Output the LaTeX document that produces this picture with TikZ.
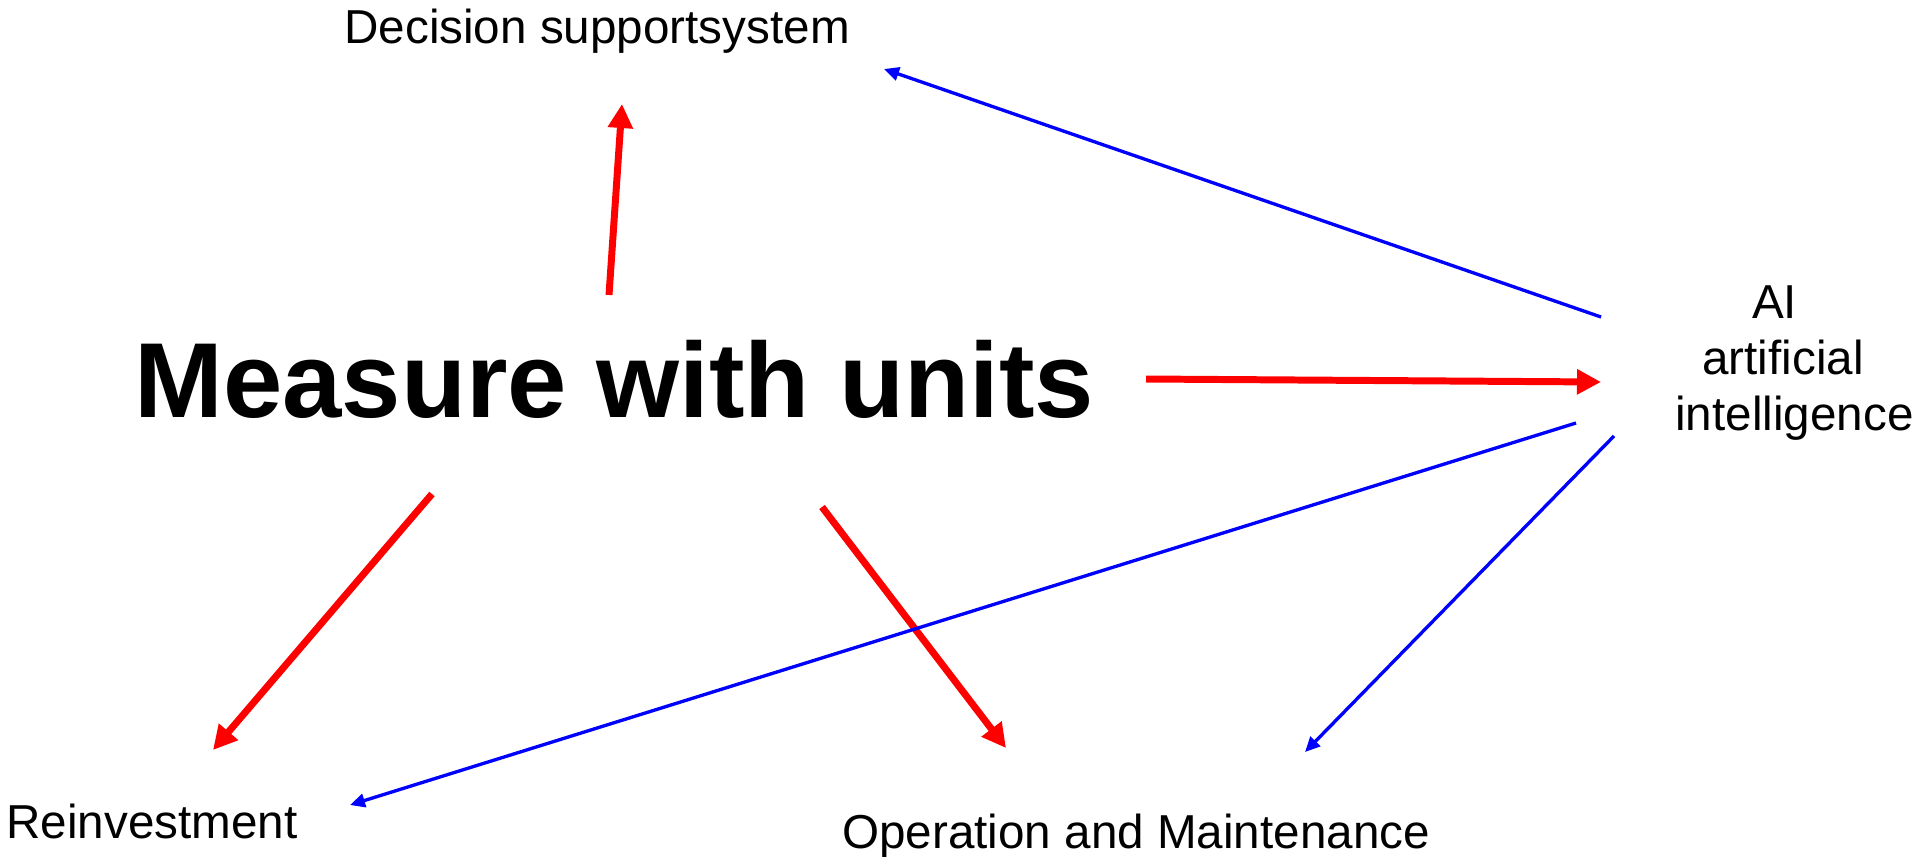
\documentclass[tikz,border=0pt]{standalone}
\usepackage{fontspec}
\setmainfont{Liberation Sans}
\usetikzlibrary{arrows.meta}
\begin{document}
\begin{tikzpicture}[x=0.02cm,y=-0.02cm,
  lbl/.style={inner sep=0pt,anchor=base west,font=\fontsize{27.1pt}{31.6pt}\selectfont},
  redarr/.style={draw=red,line width=3.97pt,-{Triangle[length=0.48cm,width=0.48cm]}},
  bluearr/.style={draw=blue,line width=1.9pt,-{Triangle[length=0.3cm,width=0.27cm]}}]
\useasboundingbox (0,0) rectangle (1913,856);
% texts
\node[inner sep=0pt,anchor=base west,font=\fontsize{60.7pt}{70pt}\selectfont\bfseries] (main) at (134,417) {Measure with units};
\node[lbl] (dss) at (344,43) {Decision supportsystem};
\node[lbl] (rei) at (6,838) {Reinvestment};
\node[lbl] (om) at (842,848) {Operation and Maintenance};
\node[lbl,align=left] (ai) at (1675,430) {\hspace*{43.7pt}AI\\\hspace*{15.3pt}artificial\\intelligence};
% arrow ends
\coordinate (m-dss-s) at (609,295);
\coordinate (m-dss-t) at (622,104);
\coordinate (m-ai-s) at (1146,379);
\coordinate (m-ai-t) at (1601,382);
\coordinate (m-rei-s) at (432,494);
\coordinate (m-rei-t) at (213,750);
\coordinate (m-om-s) at (822,507);
\coordinate (m-om-t) at (1006,748);
\coordinate (ai-dss-s) at (1601,317);
\coordinate (ai-dss-t) at (884,69);
\coordinate (ai-rei-s) at (1576,423);
\coordinate (ai-rei-t) at (350,805);
\coordinate (ai-om-s) at (1614,436);
\coordinate (ai-om-t) at (1305,752);
% connectors
\draw[redarr] (m-dss-s) -- (m-dss-t);
\draw[redarr] (m-ai-s) -- (m-ai-t);
\draw[redarr] (m-rei-s) -- (m-rei-t);
\draw[redarr] (m-om-s) -- (m-om-t);
\draw[bluearr] (ai-dss-s) -- (ai-dss-t);
\draw[bluearr] (ai-rei-s) -- (ai-rei-t);
\draw[bluearr] (ai-om-s) -- (ai-om-t);
\end{tikzpicture}
\end{document}
